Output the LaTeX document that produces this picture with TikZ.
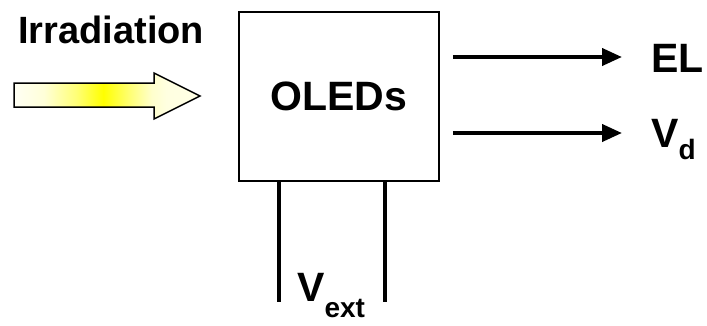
\documentclass[tikz,border=0pt]{standalone}
\usepackage{fontspec}
\setmainfont{Liberation Sans}
\usetikzlibrary{arrows.meta}
\pgfdeclarehorizontalshading{irrshade}{100bp}{%
  rgb(0bp)=(1,1,0.96); rgb(25bp)=(1,1,0.96); rgb(33bp)=(1,1,0.85);
  rgb(42bp)=(1,1,0.45); rgb(49bp)=(1,1,0); rgb(56bp)=(1,1,0.45);
  rgb(62bp)=(1,1,0.8); rgb(66bp)=(1,1,0.88); rgb(75bp)=(1,1,0.9); rgb(100bp)=(1,1,0.9)}
\begin{document}
\begin{tikzpicture}[x=1pt,y=-1pt,
  lbl/.style={font=\fontsize{38}{40}\selectfont\bfseries, inner sep=0pt, anchor=base west},
  biglbl/.style={lbl, font=\fontsize{41}{44}\selectfont\bfseries},
  outarrow/.style={line width=4pt, -{Triangle[length=20pt,width=17pt]}},
  leg/.style={line width=4pt},
  devbox/.style={draw, line width=1.5pt, minimum width=200pt, minimum height=169pt, inner sep=0pt,
    font=\fontsize{41}{44}\selectfont\bfseries},
  inarrow/.style={draw, line width=1.5pt, line join=miter, shading=irrshade}
]
\useasboundingbox (0,0) rectangle (707,325);
% input arrow
\path[inarrow] (14,83) -- (154,83) -- (154,73) -- (200,96) -- (154,119) -- (154,107) -- (14,107) -- cycle;
\node[lbl] (irr) at (18,43) {Irradiation};
% device box
\node[devbox] (box) at (339,96.5) {OLEDs};
% outputs
\node[biglbl] (el) at (651,72) {EL};
\node[biglbl] (vd) at (651,147) {V\raisebox{-12pt}{\fontsize{28}{28}\selectfont d}};
\coordinate (elend) at (622,57);
\coordinate (vdend) at (622,133);
\draw[outarrow] ([xshift=13pt]box.east |- elend) -- (elend);
\draw[outarrow] ([xshift=13pt]box.east |- vdend) -- (vdend);
% legs
\coordinate (leg1) at (279,302);
\coordinate (leg2) at (385,302);
\draw[leg] (leg1 |- box.south) -- (leg1);
\draw[leg] (leg2 |- box.south) -- (leg2);
\node[biglbl] (vext) at (297,301) {V\raisebox{-16pt}{\fontsize{28}{28}\selectfont ext}};
\end{tikzpicture}
\end{document}
